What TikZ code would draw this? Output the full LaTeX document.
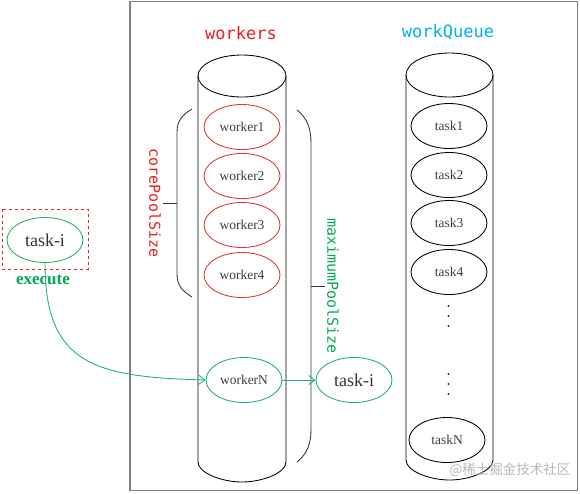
\documentclass[tikz,border=0pt]{standalone}
\usepackage{fontspec}
\setmainfont{Liberation Serif}
\newfontfamily\monof{DejaVu Sans Mono}
\newfontfamily\cjkf{Noto Sans CJK SC}
\usetikzlibrary{shapes.geometric,arrows.meta}
\definecolor{myred}{RGB}{235,30,30}
\definecolor{ellred}{RGB}{225,50,50}
\definecolor{mygreen}{RGB}{0,170,85}
\definecolor{ellgreen}{RGB}{30,175,110}
\definecolor{mycyan}{RGB}{0,176,240}
\definecolor{txtgray}{RGB}{60,60,60}
\definecolor{dotblue}{RGB}{30,40,120}
\definecolor{boxgray}{RGB}{128,128,128}
\begin{document}
\begin{tikzpicture}[x=1pt,y=-1pt,
  cell/.style={ellipse,draw,line width=0.85pt,inner sep=0pt,minimum width=76pt,minimum height=45pt,
    font=\fontsize{13.5}{13.5}\selectfont,text=txtgray},
  redcell/.style={cell,draw=ellred},
  blackcell/.style={cell,draw=black},
  greencell/.style={cell,draw=ellgreen},
  bigtask/.style={greencell,font=\fontsize{18}{18}\selectfont,text=black!80},
  title/.style={font=\monof\fontsize{17}{17}\selectfont},
  sidelabel/.style={font=\monof\fontsize{15}{15}\selectfont,rotate=-90},
  cyl/.style={draw=black,line width=0.85pt},
  brk/.style={draw=black!80,line width=0.85pt},
  flow/.style={draw=ellgreen,line width=0.85pt,-{Straight Barb[length=6pt,width=9pt]}},
  qdot/.style={fill=dotblue}
]
\useasboundingbox (0,0) rectangle (580,493);
% outer box
\draw[boxgray,line width=1.4pt] (130,1.5) rectangle (577.5,490.5);
% titles
\node[title,text=myred] (tw) at (241,33) {workers};
\node[title,text=mycyan] (tq) at (448,32) {workQueue};
% workers cylinder
\draw[cyl] (242,76) ellipse [x radius=44pt,y radius=21pt];
\draw[cyl] (198,76) -- (198,462) .. controls (198,473) and (222,482) .. (242,482)
  .. controls (262,482) and (286,473) .. (286,462) -- (286,76);
% workQueue cylinder
\draw[cyl] (449.5,75) ellipse [x radius=43.5pt,y radius=22pt];
\draw[cyl] (406,75) -- (406,460) .. controls (406,471) and (429.5,480) .. (449.5,480)
  .. controls (469.5,480) and (493,471) .. (493,460) -- (493,75);
% worker ellipses
\node[redcell] (w1) at (242,127) {worker1};
\node[redcell] (w2) at (242,176) {worker2};
\node[redcell] (w3) at (242,225) {worker3};
\node[redcell] (w4) at (242,275) {worker4};
\node[greencell] (wN) at (244,380) {workerN};
% queue ellipses
\node[blackcell] (t1) at (449,126) {task1};
\node[blackcell] (t2) at (449,175) {task2};
\node[blackcell] (t3) at (449,223) {task3};
\node[blackcell] (t4) at (449,272) {task4};
\node[blackcell] (tN) at (447,440) {taskN};
\foreach \yy in {306,316,326,374,384,394}{\fill[qdot] (448.5,\yy) circle (1.1pt);}
% corePoolSize brace
\draw[brk] (192,109) .. controls (182,115) and (177,121) .. (177,132) -- (177,274)
  .. controls (177,285) and (182,291) .. (192,297);
\draw[brk] (163,203) -- (177,203);
\node[sidelabel,text=myred] (cps) at (155,203) {corePoolSize};
% maximumPoolSize bracket
\draw[brk] (297,110) .. controls (307,118) and (311,128) .. (311,143) -- (311,429)
  .. controls (311,444) and (307,454) .. (297,462);
\draw[brk] (311,286) -- (325,286);
\node[sidelabel,text=mygreen] (mps) at (333,286) {maximumPoolSize};
% left task
\draw[myred,dashed,line width=0.6pt] (2,209) rectangle (88,269);
\node[bigtask] (tl) at (45,240) {task-i};
\node[font=\bfseries\fontsize{17}{17}\selectfont,text=mygreen] (ex) at (43,280) {execute};
% right task
\node[bigtask] (tr) at (354,380) {task-i};
% connectors
\draw[flow] (tl.south) .. controls (45,365) and (95,377) .. (wN.west);
\draw[flow] (wN.east) -- (tr.west);
% watermark
\node[font=\cjkf\fontsize{13.5}{13.5}\selectfont,text=black!28] (wm) at (510,470) {@稀土掘金技术社区};
\end{tikzpicture}
\end{document}
